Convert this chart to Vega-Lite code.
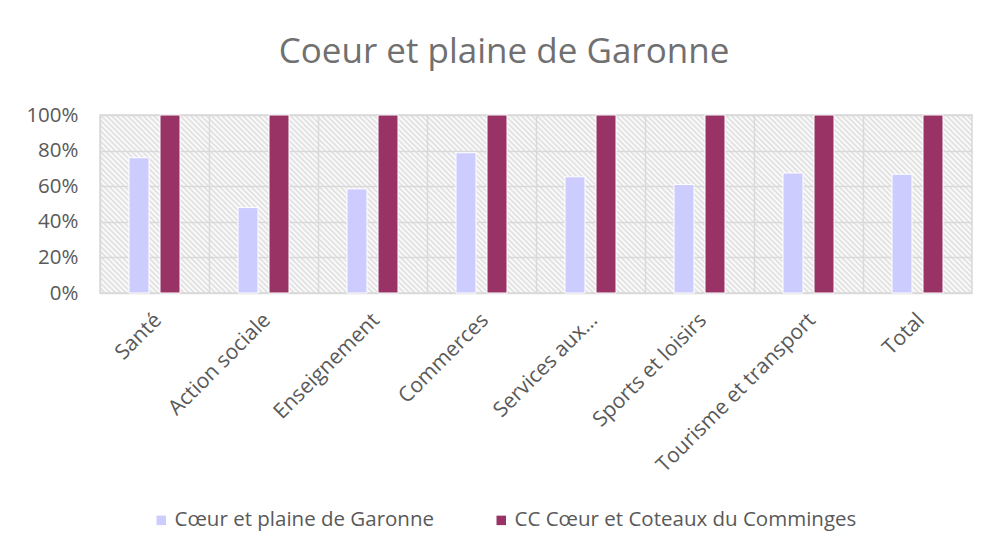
{
  "$schema": "https://vega.github.io/schema/vega-lite/v6.json",
  "width": 872,
  "height": 178,
  "autosize": {"type": "none"},
  "padding": {"left": 100, "top": 115, "right": 22, "bottom": 261},
  "background": "white",
  "title": {
    "text": "Coeur et plaine de Garonne",
    "font": "Open Sans",
    "fontSize": 35,
    "fontWeight": "normal",
    "color": "#707070",
    "anchor": "middle",
    "dx": -32,
    "offset": 35
  },
  "data": {
    "values": [
      {"category": "Santé", "series": "Cœur et plaine de Garonne", "value": 0.76},
      {"category": "Santé", "series": "CC Cœur et Coteaux du Comminges", "value": 1.0},
      {"category": "Action sociale", "series": "Cœur et plaine de Garonne", "value": 0.48},
      {"category": "Action sociale", "series": "CC Cœur et Coteaux du Comminges", "value": 1.0},
      {"category": "Enseignement", "series": "Cœur et plaine de Garonne", "value": 0.585},
      {"category": "Enseignement", "series": "CC Cœur et Coteaux du Comminges", "value": 1.0},
      {"category": "Commerces", "series": "Cœur et plaine de Garonne", "value": 0.788},
      {"category": "Commerces", "series": "CC Cœur et Coteaux du Comminges", "value": 1.0},
      {"category": "Services aux…", "series": "Cœur et plaine de Garonne", "value": 0.653},
      {"category": "Services aux…", "series": "CC Cœur et Coteaux du Comminges", "value": 1.0},
      {"category": "Sports et loisirs", "series": "Cœur et plaine de Garonne", "value": 0.61},
      {"category": "Sports et loisirs", "series": "CC Cœur et Coteaux du Comminges", "value": 1.0},
      {"category": "Tourisme et transport", "series": "Cœur et plaine de Garonne", "value": 0.674},
      {"category": "Tourisme et transport", "series": "CC Cœur et Coteaux du Comminges", "value": 1.0},
      {"category": "Total", "series": "Cœur et plaine de Garonne", "value": 0.667},
      {"category": "Total", "series": "CC Cœur et Coteaux du Comminges", "value": 1.0}
    ]
  },
  "mark": {"type": "bar", "stroke": "white", "strokeWidth": 1},
  "encoding": {
    "x": {
      "field": "category",
      "type": "nominal",
      "sort": ["Santé", "Action sociale", "Enseignement", "Commerces", "Services aux…", "Sports et loisirs", "Tourisme et transport", "Total"],
      "scale": {"paddingInner": 0, "paddingOuter": 0},
      "axis": {
        "title": null,
        "labelAngle": -45,
        "labelFont": "Open Sans",
        "labelFontSize": 21,
        "labelColor": "#595959",
        "labelPadding": 16,
        "labelOffset": -4,
        "labelLimit": 400,
        "ticks": false,
        "domain": false,
        "grid": true,
        "bandPosition": 0,
        "gridColor": "#d9d9d9",
        "gridWidth": 1.5
      }
    },
    "xOffset": {
      "field": "series",
      "type": "nominal",
      "sort": ["Cœur et plaine de Garonne", "CC Cœur et Coteaux du Comminges"],
      "scale": {"paddingInner": 0.355, "paddingOuter": 0.935}
    },
    "y": {
      "field": "value",
      "type": "quantitative",
      "scale": {"domain": [0, 1]},
      "axis": {
        "title": null,
        "format": ".0%",
        "values": [0, 0.2, 0.4, 0.6, 0.8, 1],
        "labelFont": "Open Sans",
        "labelFontSize": 20.5,
        "labelColor": "#595959",
        "labelPadding": 22,
        "ticks": false,
        "domain": false,
        "gridColor": "#d9d9d9",
        "gridWidth": 1.5
      }
    },
    "color": {
      "field": "series",
      "type": "nominal",
      "sort": ["Cœur et plaine de Garonne", "CC Cœur et Coteaux du Comminges"],
      "scale": {
        "domain": ["Cœur et plaine de Garonne", "CC Cœur et Coteaux du Comminges"],
        "range": ["#ccccff", "#993366"]
      },
      "legend": {
        "title": null,
        "orient": "none",
        "legendX": 51,
        "legendY": 395,
        "direction": "horizontal",
        "labelFont": "Open Sans",
        "labelFontSize": 20.5,
        "labelColor": "#595959",
        "labelLimit": 500,
        "symbolType": "square",
        "symbolSize": 90,
        "symbolStrokeWidth": 0,
        "columnPadding": 56,
        "labelOffset": 3
      }
    }
  },
  "config": {
    "view": {
      "stroke": "#d9d9d9",
      "strokeWidth": 1.5,
      "fill": {
        "gradient": "linear",
        "x1": 0, "y1": 1, "x2": 1.156, "y2": 0.764,
        "stops": [
{"offset":0,"color":"#ddd"},{"offset":0.0025,"color":"#fff"},{"offset":0.005,"color":"#ddd"},{"offset":0.0075,"color":"#fff"},
{"offset":0.01,"color":"#ddd"},{"offset":0.0125,"color":"#fff"},{"offset":0.015,"color":"#ddd"},{"offset":0.0175,"color":"#fff"},
{"offset":0.02,"color":"#ddd"},{"offset":0.0225,"color":"#fff"},{"offset":0.025,"color":"#ddd"},{"offset":0.0275,"color":"#fff"},
{"offset":0.03,"color":"#ddd"},{"offset":0.0325,"color":"#fff"},{"offset":0.035,"color":"#ddd"},{"offset":0.0375,"color":"#fff"},
{"offset":0.04,"color":"#ddd"},{"offset":0.0425,"color":"#fff"},{"offset":0.045,"color":"#ddd"},{"offset":0.0475,"color":"#fff"},
{"offset":0.05,"color":"#ddd"},{"offset":0.0525,"color":"#fff"},{"offset":0.055,"color":"#ddd"},{"offset":0.0575,"color":"#fff"},
{"offset":0.06,"color":"#ddd"},{"offset":0.0625,"color":"#fff"},{"offset":0.065,"color":"#ddd"},{"offset":0.0675,"color":"#fff"},
{"offset":0.07,"color":"#ddd"},{"offset":0.0725,"color":"#fff"},{"offset":0.075,"color":"#ddd"},{"offset":0.0775,"color":"#fff"},
{"offset":0.08,"color":"#ddd"},{"offset":0.0825,"color":"#fff"},{"offset":0.085,"color":"#ddd"},{"offset":0.0875,"color":"#fff"},
{"offset":0.09,"color":"#ddd"},{"offset":0.0925,"color":"#fff"},{"offset":0.095,"color":"#ddd"},{"offset":0.0975,"color":"#fff"},
{"offset":0.1,"color":"#ddd"},{"offset":0.1025,"color":"#fff"},{"offset":0.105,"color":"#ddd"},{"offset":0.1075,"color":"#fff"},
{"offset":0.11,"color":"#ddd"},{"offset":0.1125,"color":"#fff"},{"offset":0.115,"color":"#ddd"},{"offset":0.1175,"color":"#fff"},
{"offset":0.12,"color":"#ddd"},{"offset":0.1225,"color":"#fff"},{"offset":0.125,"color":"#ddd"},{"offset":0.1275,"color":"#fff"},
{"offset":0.13,"color":"#ddd"},{"offset":0.1325,"color":"#fff"},{"offset":0.135,"color":"#ddd"},{"offset":0.1375,"color":"#fff"},
{"offset":0.14,"color":"#ddd"},{"offset":0.1425,"color":"#fff"},{"offset":0.145,"color":"#ddd"},{"offset":0.1475,"color":"#fff"},
{"offset":0.15,"color":"#ddd"},{"offset":0.1525,"color":"#fff"},{"offset":0.155,"color":"#ddd"},{"offset":0.1575,"color":"#fff"},
{"offset":0.16,"color":"#ddd"},{"offset":0.1625,"color":"#fff"},{"offset":0.165,"color":"#ddd"},{"offset":0.1675,"color":"#fff"},
{"offset":0.17,"color":"#ddd"},{"offset":0.1725,"color":"#fff"},{"offset":0.175,"color":"#ddd"},{"offset":0.1775,"color":"#fff"},
{"offset":0.18,"color":"#ddd"},{"offset":0.1825,"color":"#fff"},{"offset":0.185,"color":"#ddd"},{"offset":0.1875,"color":"#fff"},
{"offset":0.19,"color":"#ddd"},{"offset":0.1925,"color":"#fff"},{"offset":0.195,"color":"#ddd"},{"offset":0.1975,"color":"#fff"},
{"offset":0.2,"color":"#ddd"},{"offset":0.2025,"color":"#fff"},{"offset":0.205,"color":"#ddd"},{"offset":0.2075,"color":"#fff"},
{"offset":0.21,"color":"#ddd"},{"offset":0.2125,"color":"#fff"},{"offset":0.215,"color":"#ddd"},{"offset":0.2175,"color":"#fff"},
{"offset":0.22,"color":"#ddd"},{"offset":0.2225,"color":"#fff"},{"offset":0.225,"color":"#ddd"},{"offset":0.2275,"color":"#fff"},
{"offset":0.23,"color":"#ddd"},{"offset":0.2325,"color":"#fff"},{"offset":0.235,"color":"#ddd"},{"offset":0.2375,"color":"#fff"},
{"offset":0.24,"color":"#ddd"},{"offset":0.2425,"color":"#fff"},{"offset":0.245,"color":"#ddd"},{"offset":0.2475,"color":"#fff"},
{"offset":0.25,"color":"#ddd"},{"offset":0.2525,"color":"#fff"},{"offset":0.255,"color":"#ddd"},{"offset":0.2575,"color":"#fff"},
{"offset":0.26,"color":"#ddd"},{"offset":0.2625,"color":"#fff"},{"offset":0.265,"color":"#ddd"},{"offset":0.2675,"color":"#fff"},
{"offset":0.27,"color":"#ddd"},{"offset":0.2725,"color":"#fff"},{"offset":0.275,"color":"#ddd"},{"offset":0.2775,"color":"#fff"},
{"offset":0.28,"color":"#ddd"},{"offset":0.2825,"color":"#fff"},{"offset":0.285,"color":"#ddd"},{"offset":0.2875,"color":"#fff"},
{"offset":0.29,"color":"#ddd"},{"offset":0.2925,"color":"#fff"},{"offset":0.295,"color":"#ddd"},{"offset":0.2975,"color":"#fff"},
{"offset":0.3,"color":"#ddd"},{"offset":0.3025,"color":"#fff"},{"offset":0.305,"color":"#ddd"},{"offset":0.3075,"color":"#fff"},
{"offset":0.31,"color":"#ddd"},{"offset":0.3125,"color":"#fff"},{"offset":0.315,"color":"#ddd"},{"offset":0.3175,"color":"#fff"},
{"offset":0.32,"color":"#ddd"},{"offset":0.3225,"color":"#fff"},{"offset":0.325,"color":"#ddd"},{"offset":0.3275,"color":"#fff"},
{"offset":0.33,"color":"#ddd"},{"offset":0.3325,"color":"#fff"},{"offset":0.335,"color":"#ddd"},{"offset":0.3375,"color":"#fff"},
{"offset":0.34,"color":"#ddd"},{"offset":0.3425,"color":"#fff"},{"offset":0.345,"color":"#ddd"},{"offset":0.3475,"color":"#fff"},
{"offset":0.35,"color":"#ddd"},{"offset":0.3525,"color":"#fff"},{"offset":0.355,"color":"#ddd"},{"offset":0.3575,"color":"#fff"},
{"offset":0.36,"color":"#ddd"},{"offset":0.3625,"color":"#fff"},{"offset":0.365,"color":"#ddd"},{"offset":0.3675,"color":"#fff"},
{"offset":0.37,"color":"#ddd"},{"offset":0.3725,"color":"#fff"},{"offset":0.375,"color":"#ddd"},{"offset":0.3775,"color":"#fff"},
{"offset":0.38,"color":"#ddd"},{"offset":0.3825,"color":"#fff"},{"offset":0.385,"color":"#ddd"},{"offset":0.3875,"color":"#fff"},
{"offset":0.39,"color":"#ddd"},{"offset":0.3925,"color":"#fff"},{"offset":0.395,"color":"#ddd"},{"offset":0.3975,"color":"#fff"},
{"offset":0.4,"color":"#ddd"},{"offset":0.4025,"color":"#fff"},{"offset":0.405,"color":"#ddd"},{"offset":0.4075,"color":"#fff"},
{"offset":0.41,"color":"#ddd"},{"offset":0.4125,"color":"#fff"},{"offset":0.415,"color":"#ddd"},{"offset":0.4175,"color":"#fff"},
{"offset":0.42,"color":"#ddd"},{"offset":0.4225,"color":"#fff"},{"offset":0.425,"color":"#ddd"},{"offset":0.4275,"color":"#fff"},
{"offset":0.43,"color":"#ddd"},{"offset":0.4325,"color":"#fff"},{"offset":0.435,"color":"#ddd"},{"offset":0.4375,"color":"#fff"},
{"offset":0.44,"color":"#ddd"},{"offset":0.4425,"color":"#fff"},{"offset":0.445,"color":"#ddd"},{"offset":0.4475,"color":"#fff"},
{"offset":0.45,"color":"#ddd"},{"offset":0.4525,"color":"#fff"},{"offset":0.455,"color":"#ddd"},{"offset":0.4575,"color":"#fff"},
{"offset":0.46,"color":"#ddd"},{"offset":0.4625,"color":"#fff"},{"offset":0.465,"color":"#ddd"},{"offset":0.4675,"color":"#fff"},
{"offset":0.47,"color":"#ddd"},{"offset":0.4725,"color":"#fff"},{"offset":0.475,"color":"#ddd"},{"offset":0.4775,"color":"#fff"},
{"offset":0.48,"color":"#ddd"},{"offset":0.4825,"color":"#fff"},{"offset":0.485,"color":"#ddd"},{"offset":0.4875,"color":"#fff"},
{"offset":0.49,"color":"#ddd"},{"offset":0.4925,"color":"#fff"},{"offset":0.495,"color":"#ddd"},{"offset":0.4975,"color":"#fff"},
{"offset":0.5,"color":"#ddd"},{"offset":0.5025,"color":"#fff"},{"offset":0.505,"color":"#ddd"},{"offset":0.5075,"color":"#fff"},
{"offset":0.51,"color":"#ddd"},{"offset":0.5125,"color":"#fff"},{"offset":0.515,"color":"#ddd"},{"offset":0.5175,"color":"#fff"},
{"offset":0.52,"color":"#ddd"},{"offset":0.5225,"color":"#fff"},{"offset":0.525,"color":"#ddd"},{"offset":0.5275,"color":"#fff"},
{"offset":0.53,"color":"#ddd"},{"offset":0.5325,"color":"#fff"},{"offset":0.535,"color":"#ddd"},{"offset":0.5375,"color":"#fff"},
{"offset":0.54,"color":"#ddd"},{"offset":0.5425,"color":"#fff"},{"offset":0.545,"color":"#ddd"},{"offset":0.5475,"color":"#fff"},
{"offset":0.55,"color":"#ddd"},{"offset":0.5525,"color":"#fff"},{"offset":0.555,"color":"#ddd"},{"offset":0.5575,"color":"#fff"},
{"offset":0.56,"color":"#ddd"},{"offset":0.5625,"color":"#fff"},{"offset":0.565,"color":"#ddd"},{"offset":0.5675,"color":"#fff"},
{"offset":0.57,"color":"#ddd"},{"offset":0.5725,"color":"#fff"},{"offset":0.575,"color":"#ddd"},{"offset":0.5775,"color":"#fff"},
{"offset":0.58,"color":"#ddd"},{"offset":0.5825,"color":"#fff"},{"offset":0.585,"color":"#ddd"},{"offset":0.5875,"color":"#fff"},
{"offset":0.59,"color":"#ddd"},{"offset":0.5925,"color":"#fff"},{"offset":0.595,"color":"#ddd"},{"offset":0.5975,"color":"#fff"},
{"offset":0.6,"color":"#ddd"},{"offset":0.6025,"color":"#fff"},{"offset":0.605,"color":"#ddd"},{"offset":0.6075,"color":"#fff"},
{"offset":0.61,"color":"#ddd"},{"offset":0.6125,"color":"#fff"},{"offset":0.615,"color":"#ddd"},{"offset":0.6175,"color":"#fff"},
{"offset":0.62,"color":"#ddd"},{"offset":0.6225,"color":"#fff"},{"offset":0.625,"color":"#ddd"},{"offset":0.6275,"color":"#fff"},
{"offset":0.63,"color":"#ddd"},{"offset":0.6325,"color":"#fff"},{"offset":0.635,"color":"#ddd"},{"offset":0.6375,"color":"#fff"},
{"offset":0.64,"color":"#ddd"},{"offset":0.6425,"color":"#fff"},{"offset":0.645,"color":"#ddd"},{"offset":0.6475,"color":"#fff"},
{"offset":0.65,"color":"#ddd"},{"offset":0.6525,"color":"#fff"},{"offset":0.655,"color":"#ddd"},{"offset":0.6575,"color":"#fff"},
{"offset":0.66,"color":"#ddd"},{"offset":0.6625,"color":"#fff"},{"offset":0.665,"color":"#ddd"},{"offset":0.6675,"color":"#fff"},
{"offset":0.67,"color":"#ddd"},{"offset":0.6725,"color":"#fff"},{"offset":0.675,"color":"#ddd"},{"offset":0.6775,"color":"#fff"},
{"offset":0.68,"color":"#ddd"},{"offset":0.6825,"color":"#fff"},{"offset":0.685,"color":"#ddd"},{"offset":0.6875,"color":"#fff"},
{"offset":0.69,"color":"#ddd"},{"offset":0.6925,"color":"#fff"},{"offset":0.695,"color":"#ddd"},{"offset":0.6975,"color":"#fff"},
{"offset":0.7,"color":"#ddd"},{"offset":0.7025,"color":"#fff"},{"offset":0.705,"color":"#ddd"},{"offset":0.7075,"color":"#fff"},
{"offset":0.71,"color":"#ddd"},{"offset":0.7125,"color":"#fff"},{"offset":0.715,"color":"#ddd"},{"offset":0.7175,"color":"#fff"},
{"offset":0.72,"color":"#ddd"},{"offset":0.7225,"color":"#fff"},{"offset":0.725,"color":"#ddd"},{"offset":0.7275,"color":"#fff"},
{"offset":0.73,"color":"#ddd"},{"offset":0.7325,"color":"#fff"},{"offset":0.735,"color":"#ddd"},{"offset":0.7375,"color":"#fff"},
{"offset":0.74,"color":"#ddd"},{"offset":0.7425,"color":"#fff"},{"offset":0.745,"color":"#ddd"},{"offset":0.7475,"color":"#fff"},
{"offset":0.75,"color":"#ddd"},{"offset":0.7525,"color":"#fff"},{"offset":0.755,"color":"#ddd"},{"offset":0.7575,"color":"#fff"},
{"offset":0.76,"color":"#ddd"},{"offset":0.7625,"color":"#fff"},{"offset":0.765,"color":"#ddd"},{"offset":0.7675,"color":"#fff"},
{"offset":0.77,"color":"#ddd"},{"offset":0.7725,"color":"#fff"},{"offset":0.775,"color":"#ddd"},{"offset":0.7775,"color":"#fff"},
{"offset":0.78,"color":"#ddd"},{"offset":0.7825,"color":"#fff"},{"offset":0.785,"color":"#ddd"},{"offset":0.7875,"color":"#fff"},
{"offset":0.79,"color":"#ddd"},{"offset":0.7925,"color":"#fff"},{"offset":0.795,"color":"#ddd"},{"offset":0.7975,"color":"#fff"},
{"offset":0.8,"color":"#ddd"},{"offset":0.8025,"color":"#fff"},{"offset":0.805,"color":"#ddd"},{"offset":0.8075,"color":"#fff"},
{"offset":0.81,"color":"#ddd"},{"offset":0.8125,"color":"#fff"},{"offset":0.815,"color":"#ddd"},{"offset":0.8175,"color":"#fff"},
{"offset":0.82,"color":"#ddd"},{"offset":0.8225,"color":"#fff"},{"offset":0.825,"color":"#ddd"},{"offset":0.8275,"color":"#fff"},
{"offset":0.83,"color":"#ddd"},{"offset":0.8325,"color":"#fff"},{"offset":0.835,"color":"#ddd"},{"offset":0.8375,"color":"#fff"},
{"offset":0.84,"color":"#ddd"},{"offset":0.8425,"color":"#fff"},{"offset":0.845,"color":"#ddd"},{"offset":0.8475,"color":"#fff"},
{"offset":0.85,"color":"#ddd"},{"offset":0.8525,"color":"#fff"},{"offset":0.855,"color":"#ddd"},{"offset":0.8575,"color":"#fff"},
{"offset":0.86,"color":"#ddd"},{"offset":0.8625,"color":"#fff"},{"offset":0.865,"color":"#ddd"},{"offset":0.8675,"color":"#fff"},
{"offset":0.87,"color":"#ddd"},{"offset":0.8725,"color":"#fff"},{"offset":0.875,"color":"#ddd"},{"offset":0.8775,"color":"#fff"},
{"offset":0.88,"color":"#ddd"},{"offset":0.8825,"color":"#fff"},{"offset":0.885,"color":"#ddd"},{"offset":0.8875,"color":"#fff"},
{"offset":0.89,"color":"#ddd"},{"offset":0.8925,"color":"#fff"},{"offset":0.895,"color":"#ddd"},{"offset":0.8975,"color":"#fff"},
{"offset":0.9,"color":"#ddd"},{"offset":0.9025,"color":"#fff"},{"offset":0.905,"color":"#ddd"},{"offset":0.9075,"color":"#fff"},
{"offset":0.91,"color":"#ddd"},{"offset":0.9125,"color":"#fff"},{"offset":0.915,"color":"#ddd"},{"offset":0.9175,"color":"#fff"},
{"offset":0.92,"color":"#ddd"},{"offset":0.9225,"color":"#fff"},{"offset":0.925,"color":"#ddd"},{"offset":0.9275,"color":"#fff"},
{"offset":0.93,"color":"#ddd"},{"offset":0.9325,"color":"#fff"},{"offset":0.935,"color":"#ddd"},{"offset":0.9375,"color":"#fff"},
{"offset":0.94,"color":"#ddd"},{"offset":0.9425,"color":"#fff"},{"offset":0.945,"color":"#ddd"},{"offset":0.9475,"color":"#fff"},
{"offset":0.95,"color":"#ddd"},{"offset":0.9525,"color":"#fff"},{"offset":0.955,"color":"#ddd"},{"offset":0.9575,"color":"#fff"},
{"offset":0.96,"color":"#ddd"},{"offset":0.9625,"color":"#fff"},{"offset":0.965,"color":"#ddd"},{"offset":0.9675,"color":"#fff"},
{"offset":0.97,"color":"#ddd"},{"offset":0.9725,"color":"#fff"},{"offset":0.975,"color":"#ddd"},{"offset":0.9775,"color":"#fff"},
{"offset":0.98,"color":"#ddd"},{"offset":0.9825,"color":"#fff"},{"offset":0.985,"color":"#ddd"},{"offset":0.9875,"color":"#fff"},
{"offset":0.99,"color":"#ddd"},{"offset":0.9925,"color":"#fff"},{"offset":0.995,"color":"#ddd"},{"offset":0.9975,"color":"#fff"},
{"offset":1,"color":"#ddd"}
        ]
      }
    }
  }
}
